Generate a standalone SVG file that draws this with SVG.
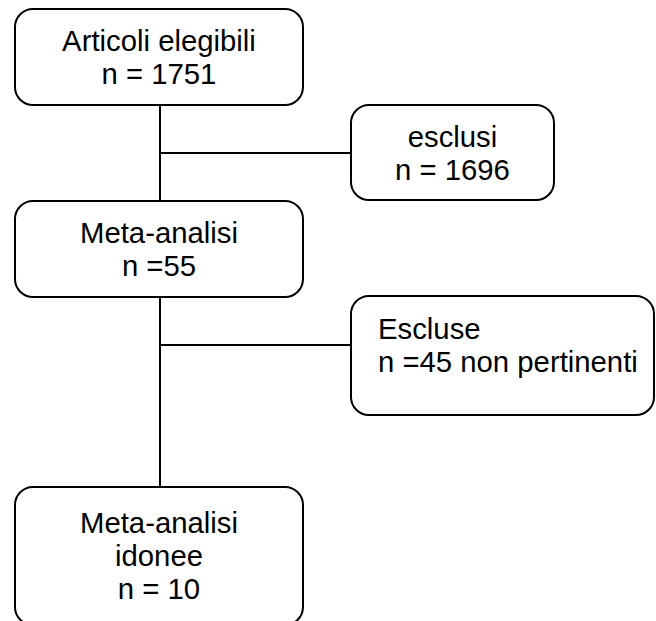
<svg xmlns="http://www.w3.org/2000/svg" width="656" height="621" viewBox="0 0 656 621">
<style>
.box{fill:#fff;stroke:#000;stroke-width:2}
.t{font-family:"Liberation Sans",Arial,sans-serif;font-size:29.3px;fill:#000}
.c{text-anchor:middle}
.ln{stroke:#000;stroke-width:2;fill:none}
</style>
<rect width="656" height="621" fill="#fff"/>
<g id="connectors">
<line class="ln" x1="160" y1="105" x2="160" y2="201"/>
<line class="ln" x1="160" y1="153" x2="351" y2="153"/>
<line class="ln" x1="160" y1="297" x2="160" y2="487"/>
<line class="ln" x1="160" y1="345" x2="351" y2="345"/>
</g>
<g id="articoli">
<rect class="box" x="15" y="9" width="288" height="96" rx="18"/>
<text class="t c" x="159" y="51">Articoli elegibili</text>
<text class="t c" x="159" y="84">n = 1751</text>
</g>
<g id="esclusi">
<rect class="box" x="351" y="105" width="203" height="95" rx="18"/>
<text class="t c" x="452.5" y="147">esclusi</text>
<text class="t c" x="452.5" y="180">n = 1696</text>
</g>
<g id="meta55">
<rect class="box" x="15" y="201" width="288" height="96" rx="18"/>
<text class="t c" x="159" y="243">Meta-analisi</text>
<text class="t c" x="159" y="276">n =55</text>
</g>
<g id="escluse">
<rect class="box" x="351" y="296" width="303" height="119" rx="18"/>
<text class="t" x="378" y="339">Escluse</text>
<text class="t" x="378" y="372">n =45 non pertinenti</text>
</g>
<g id="idonee">
<rect class="box" x="15" y="487" width="288" height="138" rx="18"/>
<text class="t c" x="159" y="533">Meta-analisi</text>
<text class="t c" x="159" y="566">idonee</text>
<text class="t c" x="159" y="599">n = 10</text>
</g>
</svg>
